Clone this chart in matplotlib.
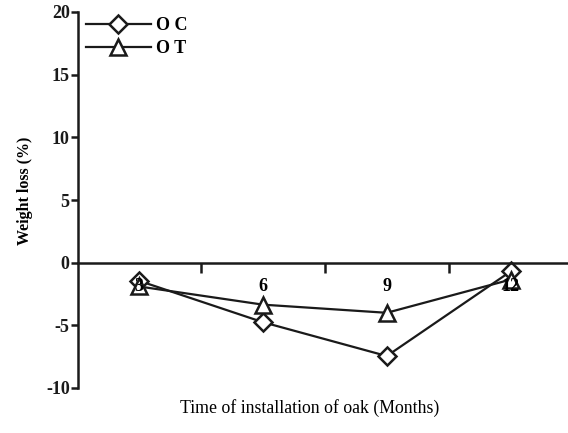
import matplotlib
matplotlib.use("Agg")
import matplotlib.pyplot as plt

months = [3, 6, 9, 12]
oc = [-1.45, -4.75, -7.45, -0.7]
ot = [-1.9, -3.35, -4.0, -1.35]
series_labels = ["O C", "O T"]
y_ticks = [-10, -5, 0, 5, 10, 15, 20]
x_tick_marks = [4.5, 7.5, 10.5]
x_tick_labels = ["3", "6", "9", "12"]

plt.rcParams['font.family'] = ['Liberation Serif', 'DejaVu Serif']

fig = plt.figure(figsize=(5.68, 4.33), dpi=100)
ax = fig.add_axes([78/568, 1-388/433, 1-78/568, (388-12)/433])

ax.plot(months, oc, color='#1a1a1a', lw=1.6, marker='D', ms=9.5,
        mfc='white', mec='#1a1a1a', mew=1.8, label=series_labels[0], zorder=2)
ax.plot(months, ot, color='#1a1a1a', lw=1.6, marker='^', ms=12,
        mfc='white', mec='#1a1a1a', mew=1.8, label=series_labels[1], zorder=2)

ax.set_ylim(-10, 20)
ax.set_xlim(1.52, 13.39)

ax.spines['top'].set_visible(False)
ax.spines['right'].set_visible(False)
ax.spines['bottom'].set_position(('data', 0))
for s in ('left', 'bottom'):
    ax.spines[s].set_linewidth(1.8)
    ax.spines[s].set_color('#1a1a1a')

ax.set_yticks(y_ticks)
ax.set_yticklabels([str(v) for v in y_ticks], fontweight='bold', fontsize=13)
ax.tick_params(axis='y', direction='out', length=5, width=1.8, pad=1, colors='#1a1a1a')

ax.set_xticks(x_tick_marks)
ax.set_xticklabels([])
ax.tick_params(axis='x', which='major', direction='out', length=7, width=1.8, colors='#1a1a1a')
ax.set_xticks(months, minor=True)
ax.set_xticklabels(x_tick_labels, minor=True, fontweight='bold', fontsize=13)
ax.tick_params(axis='x', which='minor', length=0, pad=11)
ax.xaxis.set_zorder(5)

ax.set_ylabel("Weight loss (%)", fontsize=11.5, fontweight='bold')
ax.yaxis.set_label_coords(-0.092, 0.524)
fig.text(310/568, 1-408/433, "Time of installation of oak (Months)",
         ha='center', va='center', fontsize=12.8)

leg = ax.legend(loc='upper left', bbox_to_anchor=(-0.01, 1.02), frameon=False,
                handlelength=3.6, handletextpad=0.3,
                labelspacing=0.35, borderaxespad=0.3,
                prop={'weight': 'bold', 'size': 13})

fig.savefig("out.png", dpi=100)
